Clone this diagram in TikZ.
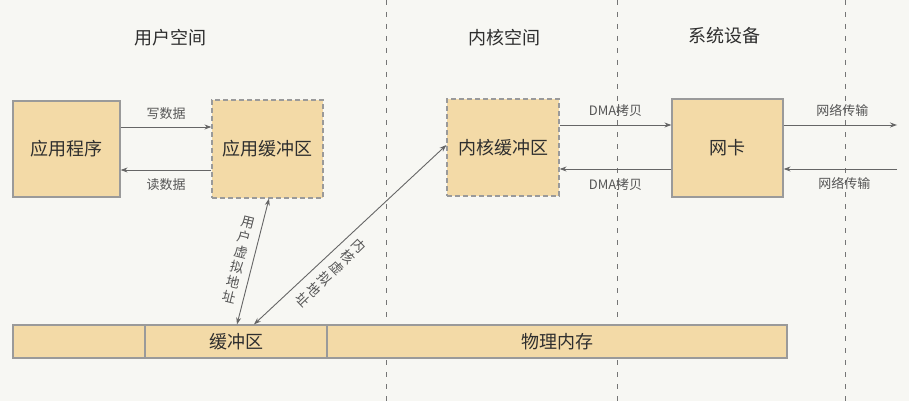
\documentclass[tikz,border=0pt]{standalone}
\usepackage{fontspec}
\setmainfont{Noto Sans CJK SC}
\usetikzlibrary{arrows.meta}
\definecolor{bg}{HTML}{F7F7F3}
\definecolor{boxfill}{HTML}{F3DAA7}
\definecolor{boxline}{HTML}{9A9A9A}
\definecolor{txt}{HTML}{2E2E2E}
\definecolor{lbl}{HTML}{555555}
\definecolor{arr}{HTML}{666666}
\tikzset{
  sbox/.style={draw=boxline, line width=1.2pt, fill=boxfill, inner sep=0pt, font=\fontsize{18}{20}\selectfont, text=txt},
  dbox/.style={sbox, dashed, dash pattern=on 5pt off 3pt},
  title/.style={font=\fontsize{18}{20}\selectfont, text=txt},
  lab/.style={font=\fontsize{13}{15}\selectfont, text=lbl},
  conn/.style={draw=arr, line width=0.9pt, -{Stealth[length=7pt,width=5pt]}},
  dconn/.style={draw=arr, line width=0.9pt, {Stealth[length=7pt,width=5pt]}-{Stealth[length=7pt,width=5pt]}},
  sep/.style={draw=arr!90, line width=1pt, dash pattern=on 5pt off 7pt},
  vtext/.style={font=\fontsize{13.5}{15.5}\selectfont, text=lbl, align=center, inner sep=0pt}
}
\begin{document}
\begin{tikzpicture}[x=1pt,y=-1pt]
\fill[bg] (0,0) rectangle (909,401);
\useasboundingbox (0,0) rectangle (909,401);
% separators
\draw[sep] (386,0) -- (386,401);
\draw[sep] (617,0) -- (617,401);
\draw[sep] (845,0) -- (845,401);
% titles
\node[title] (t1) at (170,38) {用户空间};
\node[title] (t2) at (504,38) {内核空间};
\node[title] (t3) at (724,36) {系统设备};
% boxes
\node[sbox, minimum width=107pt, minimum height=96pt] (app) at (66.5,149) {应用程序};
\node[dbox, minimum width=111pt, minimum height=98pt] (ubuf) at (267.5,149) {应用缓冲区};
\node[dbox, minimum width=112pt, minimum height=97pt] (kbuf) at (503,147.5) {内核缓冲区};
\node[sbox, minimum width=111pt, minimum height=98pt] (nic) at (727.5,148) {网卡};
% bottom bar
\node[sbox, minimum width=132pt, minimum height=33pt] (m1) at (79,341.5) {};
\node[sbox, minimum width=182pt, minimum height=33pt] (m2) at (236,341.5) {缓冲区};
\node[sbox, minimum width=460pt, minimum height=33pt] (m3) at (557,341.5) {物理内存};
% coordinates for free ends
\coordinate (netout) at (897,125);
\coordinate (netin) at (897,169);
% arrows
\draw[conn] (app.east |- 0,127) -- node[lab, above=4pt] {写数据} (ubuf.west |- 0,127);
\draw[conn] (ubuf.west |- 0,170) -- node[lab, below=5pt] {读数据} (app.east |- 0,170);
\draw[conn] (kbuf.east |- 0,125) -- node[lab, above=5pt] {DMA拷贝} (nic.west |- 0,125);
\draw[conn] (nic.west |- 0,169) -- node[lab, below=6pt] {DMA拷贝} (kbuf.east |- 0,169);
\draw[conn] (nic.east |- 0,125) -- node[lab, above=5pt, xshift=2pt] {网络传输} (netout);
\draw[conn] (netin) -- node[lab, below=5pt, xshift=4pt] {网络传输} (nic.east |- 0,169);
\draw[dconn] (ubuf.south -| 269,0) -- (m2.north -| 237,0);
\draw[dconn] (kbuf.west |- 0,145) -- (m2.north -| 254,0);
% rotated labels
\node[vtext, rotate=-14] (ul) at (239,260) {用\\户\\虚\\拟\\地\\址};
\node[vtext, rotate=-46] (kl) at (331,273) {内\\核\\虚\\拟\\地\\址};
\end{tikzpicture}
\end{document}
